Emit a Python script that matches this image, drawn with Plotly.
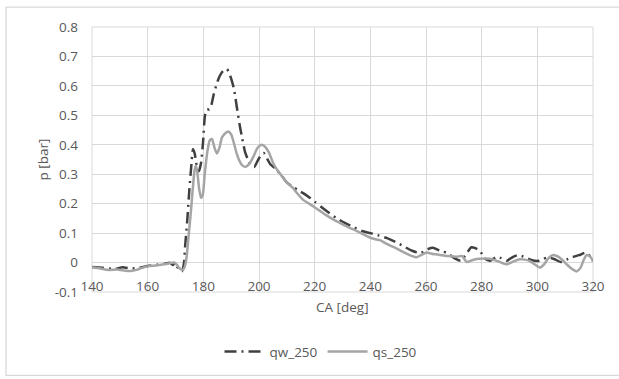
import plotly.graph_objects as go

# ---- data ----
qw_x = [140, 144, 148, 151, 154, 157, 160, 163, 166, 168, 169, 169.8, 170.5, 171.5, 172.3, 173, 173.5, 174.2, 175, 175.6,
        176.3, 176.9, 177.6, 178.4, 179.2, 179.9, 180.6, 181.3, 182.2, 182.9, 183.7, 184.6, 185.5, 186.6, 187.6, 188.5,
        189.2, 190, 191, 192, 193, 194, 195, 196, 197, 198.3, 199.5, 200.7, 201.7, 202.5, 204, 206, 208, 210, 212, 214,
        216, 218, 220, 222.5, 225, 228, 231, 234, 237, 240, 243, 246, 249, 252, 255, 258, 260.5, 262.5, 265, 267.5,
        270, 272.5, 274.5, 276.3, 277.5, 279.4, 281, 283, 285.5, 287, 289, 291, 293, 295, 297.5, 300, 302, 304, 306,
        308.5, 310.5, 312.5, 315, 317.5, 319, 320]
qw_y = [-0.015, -0.018, -0.022, -0.016, -0.02, -0.018, -0.012, -0.008, -0.004, -0.001, -0.008, -0.002, -0.014, -0.022,
        -0.03, -0.005, 0.06, 0.14, 0.25, 0.32, 0.385, 0.37, 0.33, 0.31, 0.34, 0.41, 0.5, 0.52, 0.52, 0.535, 0.57, 0.6,
        0.625, 0.645, 0.655, 0.657, 0.645, 0.625, 0.59, 0.53, 0.47, 0.42, 0.375, 0.35, 0.33, 0.325, 0.345, 0.365, 0.372,
        0.36, 0.335, 0.318, 0.297, 0.272, 0.258, 0.246, 0.235, 0.222, 0.207, 0.188, 0.17, 0.15, 0.134, 0.12, 0.107, 0.1,
        0.092, 0.083, 0.07, 0.055, 0.04, 0.032, 0.045, 0.05, 0.04, 0.033, 0.016, 0.006, 0.03, 0.052, 0.05, 0.04, 0.015,
        0.006, 0.02, 0.015, 0.006, 0.018, 0.025, 0.02, 0.01, 0.005, 0.012, 0.018, 0.012, 0.002, 0.01, 0.018, 0.025,
        0.034, 0.02, 0.005]

qs_x = [140, 143, 146, 149, 152, 154, 156, 158, 160, 163, 166, 168, 169.5, 170.5, 171.5, 172.5, 173.3, 174, 174.8, 175.5,
        176.2, 176.8, 177.3, 177.8, 178.5, 179.2, 179.8, 180.5, 181.5, 182.3, 183.1, 184, 184.9, 185.8, 186.7, 188, 189,
        190, 191, 192, 193, 194, 195.2, 196.5, 198, 199.5, 200.9, 202, 203.5, 205, 206.5, 208.5, 210, 212, 214, 216, 218,
        220, 222, 224, 226, 228, 230, 232.6, 235, 237, 239.8, 241.5, 243.4, 245, 247, 249, 251, 253, 255, 256.6, 258,
        260.2, 262, 265, 268, 271, 273, 274.6, 276.5, 278.2, 281, 283, 286, 289, 291.5, 293.7, 295.5, 297.3, 299, 300.9,
        302.5, 304, 305.7, 307.5, 309.3, 311, 312.5, 314.1, 315.5, 316.7, 317.7, 319, 320]
qs_y = [-0.016, -0.02, -0.025, -0.024, -0.028, -0.029, -0.025, -0.018, -0.013, -0.01, -0.006, -0.002, 0.0, -0.008,
        -0.02, -0.025, -0.015, 0.02, 0.1, 0.17, 0.25, 0.31, 0.33, 0.31, 0.25, 0.22, 0.23, 0.3, 0.38, 0.415, 0.42, 0.39,
        0.37, 0.39, 0.425, 0.44, 0.445, 0.435, 0.405, 0.37, 0.345, 0.33, 0.325, 0.335, 0.36, 0.39, 0.4, 0.395, 0.375,
        0.34, 0.315, 0.29, 0.272, 0.255, 0.232, 0.212, 0.2, 0.188, 0.175, 0.162, 0.15, 0.14, 0.13, 0.118, 0.108, 0.098,
        0.085, 0.08, 0.076, 0.068, 0.058, 0.05, 0.04, 0.03, 0.022, 0.018, 0.024, 0.034, 0.03, 0.026, 0.022, 0.02, 0.022,
        0.002, 0.008, 0.012, 0.014, 0.013, 0.004, -0.006, 0.004, 0.011, 0.01, 0.005, -0.006, -0.017, -0.005, 0.015,
        0.026, 0.02, 0.006, -0.01, -0.022, -0.03, -0.018, 0.01, 0.025, 0.02, 0.007]

x_ticks = [140, 160, 180, 200, 220, 240, 260, 280, 300, 320]
y_ticks = [-0.1, 0, 0.1, 0.2, 0.3, 0.4, 0.5, 0.6, 0.7, 0.8]
y_tick_text = ["-0.1", "0", "0.1", "0.2", "0.3", "0.4", "0.5", "0.6", "0.7", "0.8"]
x_title = "CA [deg]"
y_title = "p [bar]"

FONT = "Open Sans"
TXT = "#595959"
GRID = "#d9d9d9"

fig = go.Figure()
fig.add_trace(go.Scatter(x=qw_x, y=qw_y, mode="lines", name="qw_250",
                         line=dict(color="#404040", width=2.5, dash="12px,5px,2px,5px",
                                   shape="spline", smoothing=0.6)))
fig.add_trace(go.Scatter(x=qs_x, y=qs_y, mode="lines", name="qs_250",
                         line=dict(color="#a5a5a5", width=2.5, shape="spline", smoothing=0.6)))

ymin, ymax = -0.1, 0.8
fig.update_layout(
    width=619, height=379,
    margin=dict(l=92, r=26, t=27, b=85),
    paper_bgcolor="white", plot_bgcolor="white",
    font=dict(family=FONT, size=13.5, color=TXT),
    showlegend=True,
    legend=dict(orientation="h", x=(321 - 92) / 501, xanchor="center", y=-0.225, yanchor="middle",
                font=dict(size=13.5, color=TXT), itemwidth=40),
    xaxis=dict(range=[140, 320], tickvals=x_ticks, showgrid=True, gridcolor=GRID, gridwidth=1,
               zeroline=False, showline=False, anchor="free", position=(0 - ymin) / (ymax - ymin),
               ticks="", ticklabelstandoff=14),
    yaxis=dict(range=[ymin, ymax], tickvals=y_ticks, ticktext=y_tick_text, showgrid=True,
               gridcolor=GRID, gridwidth=1, zeroline=False, showline=False, ticks="",
               ticklabelstandoff=13),
    shapes=[
        dict(type="rect", xref="paper", yref="paper", x0=0, x1=1, y0=0, y1=1,
             line=dict(color=GRID, width=1), layer="below"),
        dict(type="rect", xref="paper", yref="paper", x0=(6 - 92) / 501, x1=(630 - 92) / 501,
             y0=(294 - 378) / 267, y1=(294 - 7) / 267, line=dict(color=GRID, width=1.3), layer="below"),
    ],
    annotations=[
        dict(text=x_title, xref="paper", yref="paper", x=0.5, y=(294 - 309) / 267, xanchor="center",
             yanchor="middle", showarrow=False, font=dict(size=13.5, color=TXT)),
        dict(text=y_title, xref="paper", yref="paper", x=(42 - 92) / 501, y=0.5, xanchor="center",
             yanchor="middle", showarrow=False, textangle=-90, font=dict(size=13.5, color=TXT)),
    ],
)

fig.write_html("out.html", config={"displayModeBar": False},
               post_script="document.body.style.margin='0px';")
